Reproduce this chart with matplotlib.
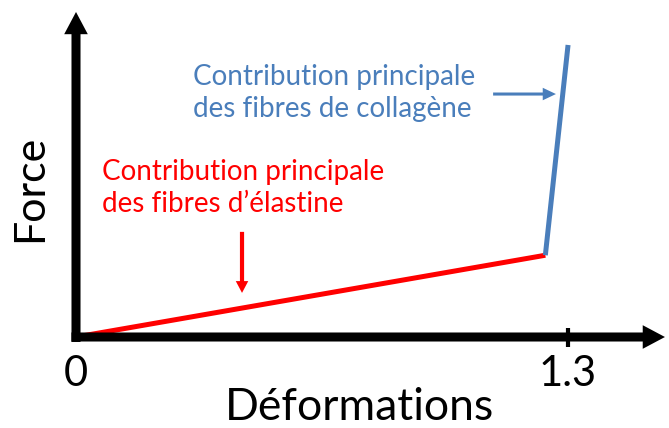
import matplotlib.pyplot as plt

# strain / force points of the simplified curve
strain = [0.0, 1.24, 1.30]
force = [0.0, 0.28, 1.00]
elastin = slice(0, 2)
collagen = slice(1, 3)

tick_values = [0.0, 1.3]
tick_labels = ['0', '1.3']

red = '#ff0000'
blue = '#4a7ebb'

plt.rcParams['font.family'] = ['Lato', 'DejaVu Sans']

fig = plt.figure(figsize=(6.69, 4.28), dpi=100)
ax = fig.add_axes([0, 0, 1, 1])
ax.set_xlim(-0.2008, 1.5667)
ax.set_ylim(-0.3116, 1.154)
ax.axis('off')

# the two regimes of the curve
ax.plot(strain[elastin], force[elastin], color=red, lw=3.6, solid_capstyle='butt', zorder=2)
ax.plot(strain[collagen], force[collagen], color=blue, lw=3.6, solid_capstyle='butt', zorder=2)

# axes drawn as thick arrows
axis_arrow = dict(width=6.5, headwidth=17, headlength=16, shrink=0, lw=0, color='black')
ax.annotate('', xy=(1.556, 0), xytext=(-0.012, 0), arrowprops=axis_arrow, zorder=3)
ax.annotate('', xy=(0, 1.113), xytext=(0, -0.017), arrowprops=axis_arrow, zorder=3)
ax.plot([1.3, 1.3], [-0.034, 0.031], color='black', lw=3, solid_capstyle='butt', zorder=3)

for v, lab in zip(tick_values, tick_labels):
    ax.text(v, -0.127, lab, fontsize=30, ha='center', va='center')

ax.text(0.75, -0.243, 'Déformations', fontsize=32, ha='center', va='center')
ax.text(-0.122, 0.51, 'Force', fontsize=31, ha='center', va='center', rotation=90)

# annotations
ax.text(0.309, 0.836, 'Contribution principale\ndes fibres de collagène',
        color=blue, fontsize=20, ha='left', va='center', linespacing=1.3)
ax.annotate('', xy=(1.268, 0.832), xytext=(1.102, 0.832),
            arrowprops=dict(width=2.2, headwidth=9, headlength=9.5, shrink=0, lw=0, color=blue))

ax.text(0.069, 0.51, "Contribution principale\ndes fibres d’élastine",
        color=red, fontsize=20, ha='left', va='center', linespacing=1.3)
ax.annotate('', xy=(0.4386, 0.151), xytext=(0.4386, 0.36),
            arrowprops=dict(width=3, headwidth=9, headlength=8.5, shrink=0, lw=0, color=red))

fig.savefig('out.png', dpi=100)
